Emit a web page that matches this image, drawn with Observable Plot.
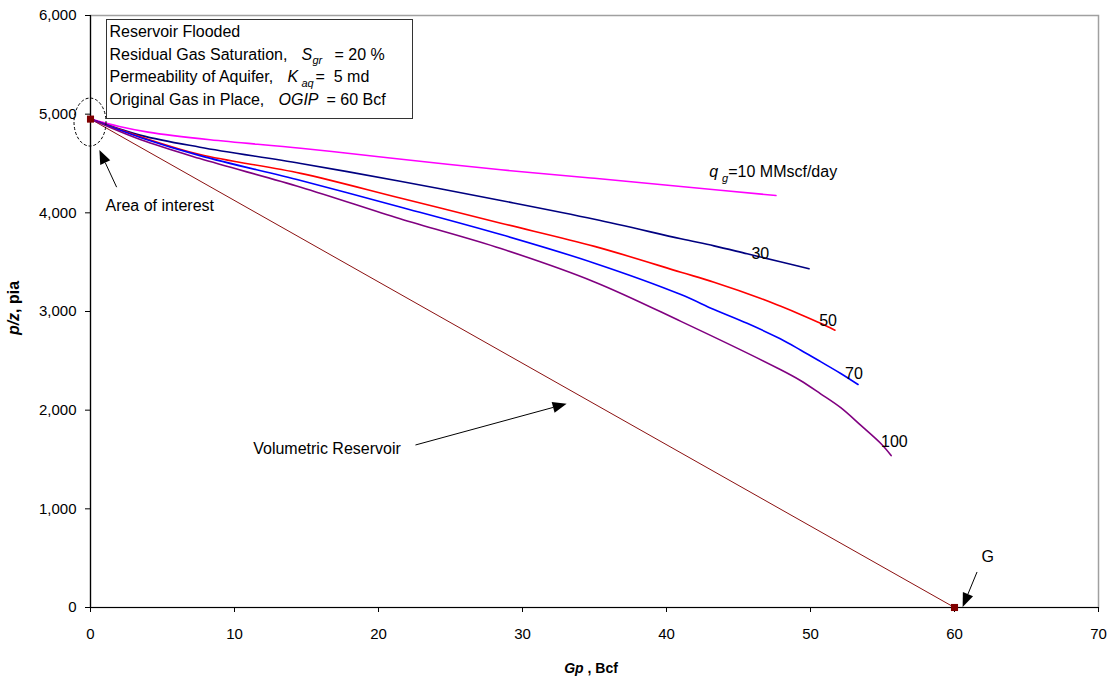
<!DOCTYPE html>
<html>
<head>
<meta charset="utf-8">
<script src="https://cdn.jsdelivr.net/npm/d3@7"></script>
<script src="https://cdn.jsdelivr.net/npm/@observablehq/plot@0.6"></script>
<style>
  html, body { margin: 0; padding: 0; background: #fff; }
  #chart svg { display: block; }
</style>
</head>
<body>
<div id="chart"></div>
<script>
// p/z vs cumulative gas production for a water-drive gas reservoir
// at several production rates, with the volumetric (closed tank) line.

const FONT = "'Liberation Sans', Arial, Helvetica, sans-serif";

// Production rates, MMscf/day
const rates = [10, 30, 50, 70, 100];
const rateColors = ["#ff00ff", "#000080", "#ff0000", "#0000ff", "#800080"];

// Cumulative production Gp (Bcf) and p/z (psia) per rate
const gp10  = [0, 2, 4, 8.3, 14.6, 20.8, 28.5, 35, 41, 47.6];
const pz10  = [4950, 4875, 4818, 4740, 4655, 4555, 4436, 4350, 4267, 4175];

const gp30  = [0, 3.5, 7.6, 14.6, 21.5, 28.5, 35, 41, 43.3, 45.6, 47.9, 49.9];
const pz30  = [4950, 4785, 4665, 4500, 4320, 4125, 3935, 3737, 3665, 3585, 3505, 3433];

const gp50  = [0, 3.5, 7.6, 14.6, 21.5, 28.5, 35, 41, 43.3, 46.6, 47.9, 49.3, 50.7, 51.7];
const pz50  = [4950, 4770, 4591, 4400, 4150, 3895, 3660, 3398, 3297, 3130, 3055, 2970, 2880, 2810];

const gp70  = [0, 3.5, 7.6, 14.6, 21.5, 28.5, 35, 41, 43.3, 45.6, 47.9, 49.3, 50.7, 52.1, 53.3];
const pz70  = [4950, 4762, 4580, 4327, 4060, 3780, 3490, 3172, 3020, 2880, 2723, 2610, 2492, 2372, 2260];

const gp100 = [0, 3.5, 7.6, 14.6, 21.5, 28.5, 35, 41, 47.9, 49.3, 50.7, 52.1, 53.5, 54.9, 55.6];
const pz100 = [4950, 4740, 4550, 4260, 3940, 3638, 3300, 2900, 2412, 2301, 2166, 2025, 1845, 1659, 1540];

// Volumetric reservoir: straight line from initial p/z to G
const gpVol = [0, 60];
const pzVol = [4950, 0];

// Axis ticks
const xTicks = [0, 10, 20, 30, 40, 50, 60, 70];
const yTicks = [0, 1000, 2000, 3000, 4000, 5000, 6000];

// Rate labels placed at the end of each curve
const labelText = ["30", "50", "70", "100"];
const labelGp   = [45.9, 50.6, 52.4, 54.9];
const labelPz   = [3588, 2909, 2372, 1682];

// Annotation arrows: [from Gp, from p/z, to Gp, to p/z]
const arrowFromGp = [1.85, 22.6, 61.6];
const arrowFromPz = [4255, 1642, 355];
const arrowToGp   = [0.65, 33.1, 60.6];
const arrowToPz   = [4632, 2060, 0];

// Build tables for Plot
const seriesGp = [gp10, gp30, gp50, gp70, gp100];
const seriesPz = [pz10, pz30, pz50, pz70, pz100];
const curves = rates.flatMap((r, i) =>
  seriesGp[i].map((g, j) => ({rate: r, gp: g, pz: seriesPz[i][j]}))
);
const volumetric = gpVol.map((g, i) => ({gp: g, pz: pzVol[i]}));
const labels = labelText.map((t, i) => ({text: t, gp: labelGp[i], pz: labelPz[i]}));
const arrows = arrowFromGp.map((g, i) => ({
  x1: g, y1: arrowFromPz[i], x2: arrowToGp[i], y2: arrowToPz[i]
}));

// Filled-head arrows drawn through the plot's scales
function arrowMark(data) {
  return (index, scales) => {
    const g = d3.create("svg:g");
    for (const a of data) {
      const x1 = scales.x(a.x1), y1 = scales.y(a.y1);
      const x2 = scales.x(a.x2), y2 = scales.y(a.y2);
      const ang = Math.atan2(y2 - y1, x2 - x1);
      const L = 14, W = 5.5;
      const bx = x2 - L * Math.cos(ang), by = y2 - L * Math.sin(ang);
      g.append("line")
        .attr("x1", x1).attr("y1", y1).attr("x2", bx).attr("y2", by)
        .attr("stroke", "#000").attr("stroke-width", 1);
      const px = -Math.sin(ang) * W, py = Math.cos(ang) * W;
      g.append("path")
        .attr("d", `M${x2},${y2}L${bx + px},${by + py}L${bx - px},${by - py}Z`)
        .attr("fill", "#000");
    }
    return g.node();
  };
}

// Dashed oval around the initial point
const interestOval = (index, scales) => {
  return d3.create("svg:ellipse")
    .attr("cx", scales.x(0)).attr("cy", scales.y(4915))
    .attr("rx", 16).attr("ry", 24)
    .attr("fill", "none").attr("stroke", "#000")
    .attr("stroke-width", 1).attr("stroke-dasharray", "3,2")
    .node();
};

// q_g rate label with subscript
const rateLabel = (index, scales) => {
  const t = d3.create("svg:text")
    .attr("x", scales.x(43.0)).attr("y", scales.y(4358))
    .attr("text-anchor", "start")
    .attr("font-family", FONT).attr("font-size", 16).attr("fill", "#000");
  t.append("tspan").attr("font-style", "italic").text("q");
  t.append("tspan").attr("font-style", "italic").attr("font-size", 11)
    .attr("dx", 4).attr("dy", 4.5).text("g");
  t.append("tspan").attr("dy", -4.5).text("=10 MMscf/day");
  return t.node();
};

// Parameter box in the top-left corner of the plot area
const paramBox = (index, scales, values, dims) => {
  const x0 = dims.marginLeft + 16, y0 = dims.marginTop + 4;
  const g = d3.create("svg:g")
    .attr("font-family", FONT).attr("font-size", 16).attr("fill", "#000")
    .attr("text-anchor", "start");
  g.append("rect")
    .attr("x", x0 + 0.5).attr("y", y0 + 0.5).attr("width", 306).attr("height", 99)
    .attr("fill", "#fff").attr("stroke", "#333").attr("stroke-width", 1);
  const tx = x0 + 3.5;
  const base = [y0 + 18, y0 + 40.5, y0 + 63, y0 + 86];
  g.append("text").attr("x", tx).attr("y", base[0]).text("Reservoir Flooded");

  const l2 = g.append("text").attr("x", tx).attr("y", base[1]);
  l2.append("tspan").text("Residual Gas Saturation,");
  l2.append("tspan").attr("x", tx + 192).attr("font-style", "italic").text("S");
  l2.append("tspan").attr("x", tx + 203).attr("dy", 4).attr("font-size", 11)
    .attr("font-style", "italic").text("gr");
  l2.append("tspan").attr("x", tx + 225).attr("dy", -4).text("= 20 %");

  const l3 = g.append("text").attr("x", tx).attr("y", base[2]);
  l3.append("tspan").text("Permeability of Aquifer,");
  l3.append("tspan").attr("x", tx + 178).attr("font-style", "italic").text("K");
  l3.append("tspan").attr("x", tx + 192).attr("dy", 5).attr("font-size", 11)
    .attr("font-style", "italic").text("aq");
  l3.append("tspan").attr("x", tx + 206).attr("dy", -5).text("=  5 md");

  const l4 = g.append("text").attr("x", tx).attr("y", base[3]);
  l4.append("tspan").text("Original Gas in Place,");
  l4.append("tspan").attr("x", tx + 169).attr("font-style", "italic").text("OGIP");
  l4.append("tspan").attr("x", tx + 217).text("= 60 Bcf");
  return g.node();
};

// Axis titles with italic symbols
const axisTitles = (index, scales, values, dims) => {
  const g = d3.create("svg:g")
    .attr("font-family", FONT).attr("font-weight", "bold")
    .attr("fill", "#000").attr("text-anchor", "middle");
  const cx = dims.marginLeft + (dims.width - dims.marginLeft - dims.marginRight) / 2;
  const xt = g.append("text").attr("x", cx - 3).attr("y", dims.height - 8)
    .attr("font-size", 14);
  xt.append("tspan").attr("font-style", "italic").text("Gp");
  xt.append("tspan").text(" , Bcf");
  const cy = dims.marginTop + (dims.height - dims.marginTop - dims.marginBottom) / 2;
  const yt = g.append("text")
    .attr("transform", `translate(19,${cy - 3}) rotate(-90)`)
    .attr("font-size", 16);
  yt.append("tspan").attr("font-style", "italic").text("p/z");
  yt.append("tspan").text(", pia");
  return g.node();
};

const chart = Plot.plot({
  width: 1112,
  height: 681,
  marginLeft: 90,
  marginRight: 14,
  marginTop: 15,
  marginBottom: 74,
  style: {fontFamily: FONT, fontSize: "15px", background: "#fff", color: "#000"},
  x: {domain: [0, 70]},
  y: {domain: [0, 6000]},
  color: {domain: rates, range: rateColors},
  marks: [
    Plot.frame({stroke: "#a0a0a0", strokeWidth: 1.5}),
    Plot.axisX(xTicks, {tickSize: 5, tickPadding: 16, label: null, fontSize: 15}),
    Plot.axisY(yTicks, {tickSize: 5, tickPadding: 9, label: null, fontSize: 15,
                        tickFormat: d3.format(",")}),
    Plot.ruleX([0], {stroke: "#000", strokeWidth: 1.2}),
    Plot.ruleY([0], {stroke: "#000", strokeWidth: 1.2}),
    Plot.line(volumetric, {x: "gp", y: "pz", stroke: "#8b1010", strokeWidth: 1}),
    Plot.line(curves, {x: "gp", y: "pz", z: "rate", stroke: "rate",
                       strokeWidth: 1.6, curve: "catmull-rom"}),
    Plot.dot(volumetric, {x: "gp", y: "pz", symbol: "square", r: 4,
                          fill: "#800000", stroke: "none"}),
    Plot.text(labels, {x: "gp", y: "pz", text: "text", textAnchor: "start",
                       fontSize: 16, fill: "#000"}),
    Plot.text(["Area of interest"], {x: 1.04, y: 4074, text: d => d,
                       textAnchor: "start", fontSize: 16, fill: "#000"}),
    Plot.text(["Volumetric Reservoir"], {x: 11.3, y: 1611, text: d => d,
                       textAnchor: "start", fontSize: 16, fill: "#000"}),
    Plot.text(["G"], {x: 62.3, y: 517, text: d => d, fontSize: 16, fill: "#000"}),
    arrowMark(arrows),
    interestOval,
    rateLabel,
    paramBox,
    axisTitles
  ]
});

document.getElementById("chart").appendChild(chart);
</script>
</body>
</html>
